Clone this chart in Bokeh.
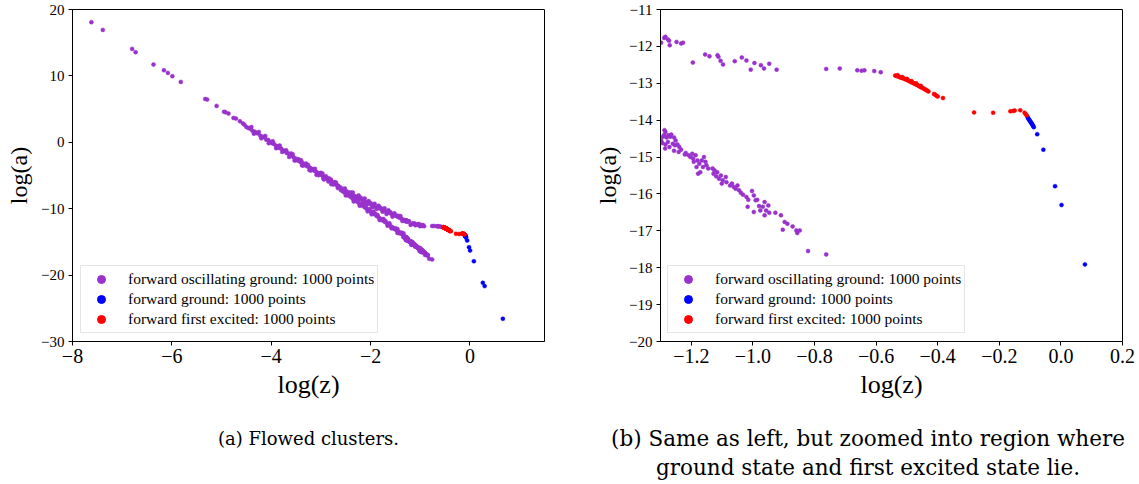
import math
from bokeh.plotting import figure
from bokeh.models import (Range1d, FixedTicker, CustomJSTickFormatter, Legend, LegendItem, Label)
from bokeh.layouts import column, row
from bokeh.embed import file_html
from bokeh.resources import INLINE

# ---------------- data: (log z, log a) ----------------
osc_ground = [
    # sparse high-a tail
    (-7.62, 18.09), (-7.39, 16.93), (-6.80, 14.07), (-6.73, 13.57), (-6.37, 11.71),
    (-6.16, 10.85), (-6.08, 10.45), (-5.99, 9.95), (-5.82, 9.10), (-5.33, 6.53),
    (-5.29, 6.43), (-5.10, 5.48), (-4.95, 4.60), (-4.92, 4.52), (-4.86, 4.32),
    (-4.76, 3.67), (-4.71, 3.57), (-4.63, 3.17), (-4.57, 2.85), (-4.54, 2.66),
    # main stem
    (-4.50, 2.30), (-4.46, 2.15), (-4.42, 2.05), (-4.38, 1.75), (-4.33, 1.60),
    (-4.30, 1.40), (-4.27, 1.35), (-4.22, 1.00), (-4.18, 0.85), (-4.14, 0.75),
    (-4.10, 0.40), (-4.06, 0.35), (-4.02, 0.05), (-3.98, -0.15), (-3.95, -0.20),
    (-3.91, -0.50), (-3.87, -0.60), (-3.84, -0.85), (-3.80, -0.95), (-3.76, -1.25),
    (-3.73, -1.30), (-3.69, -1.60), (-3.66, -1.65), (-3.62, -1.95), (-3.59, -2.00),
    (-3.55, -2.25), (-3.52, -2.45), (-3.49, -2.50), (-3.46, -2.75), (-3.43, -2.85),
    (-3.40, -3.05), (-3.37, -3.10), (-3.34, -3.30), (-3.31, -3.40), (-3.28, -3.60),
    (-3.25, -3.70), (-3.22, -3.85), (-3.19, -4.00), (-3.16, -4.15), (-3.13, -4.30),
    (-3.10, -4.40), (-3.07, -4.60), (-3.04, -4.70), (-3.01, -4.85), (-2.98, -4.95),
    (-2.95, -5.15), (-2.92, -5.25), (-2.89, -5.45), (-2.86, -5.55), (-2.83, -5.70),
    (-2.80, -5.85), (-2.77, -6.00), (-2.74, -6.10), (-2.71, -6.30), (-2.68, -6.45),
    (-2.65, -6.55),
    (-3.60, -1.70), (-3.45, -2.55), (-3.30, -3.20), (-3.15, -4.05), (-3.00, -4.60),
    (-2.90, -5.10), (-2.80, -5.60), (-2.72, -6.00), (-3.50, -2.70), (-3.35, -3.50),
    (-3.20, -4.25), (-3.05, -4.95), (-2.95, -5.45), (-2.85, -5.90), (-2.75, -6.35),
    (-4.40, 2.30), (-4.25, 1.55), (-4.12, 0.95), (-3.97, 0.15), (-3.83, -0.50),
    (-3.70, -1.20), (-3.57, -1.80), (-3.40, -2.70), (-3.26, -3.40), (-3.12, -4.00),
    (-2.97, -4.70), (-2.84, -5.40), (-2.70, -6.05),
    (-4.35, 1.30), (-4.20, 0.60), (-4.05, -0.15), (-3.90, -0.90), (-3.78, -1.45),
    (-3.64, -2.20), (-3.53, -2.75), (-3.38, -3.50), (-3.23, -4.20), (-3.09, -4.90),
    (-2.94, -5.60), (-2.79, -6.30), (-2.66, -6.90),
    # upper branch
    (-2.62, -6.75), (-2.58, -6.95), (-2.54, -7.15), (-2.50, -7.30), (-2.46, -7.50),
    (-2.42, -7.65), (-2.38, -7.85), (-2.34, -8.00), (-2.30, -8.15), (-2.26, -8.30),
    (-2.22, -8.45), (-2.18, -8.60), (-2.14, -8.80), (-2.10, -8.95), (-2.06, -9.10),
    (-2.02, -9.25), (-1.98, -9.40), (-1.94, -9.50), (-1.90, -9.65), (-1.86, -9.80),
    (-1.82, -9.95), (-1.78, -10.10), (-1.74, -10.20), (-1.70, -10.40), (-1.66, -10.50),
    (-1.62, -10.65), (-1.58, -10.80), (-1.54, -10.95), (-1.50, -11.05), (-1.46, -11.20),
    (-1.42, -11.35), (-1.38, -11.50), (-1.34, -11.65), (-1.31, -11.75),
    (-2.40, -7.55), (-2.20, -8.35), (-2.00, -9.15), (-1.80, -9.85), (-1.60, -10.55),
    (-1.45, -11.05),
    (-2.52, -6.95), (-2.36, -7.55), (-2.24, -8.00), (-2.12, -8.45), (-2.04, -8.85),
    (-1.92, -9.25), (-1.84, -9.55), (-1.72, -9.95), (-1.64, -10.25), (-1.52, -10.70),
    (-1.40, -11.10), (-2.48, -7.80), (-2.32, -8.40), (-2.16, -9.00), (-2.08, -9.35),
    (-1.96, -9.80), (-1.88, -10.05), (-1.76, -10.45), (-1.68, -10.80), (-1.56, -11.20),
    (-1.36, -11.85),
    # lower branch
    (-2.60, -7.20), (-2.56, -7.40), (-2.52, -7.60), (-2.48, -7.85), (-2.44, -8.05),
    (-2.40, -8.25), (-2.36, -8.50), (-2.32, -8.70), (-2.28, -8.90), (-2.24, -9.15),
    (-2.20, -9.35), (-2.16, -9.55), (-2.12, -9.80), (-2.08, -10.00), (-2.04, -10.20),
    (-2.00, -10.45), (-1.96, -10.65), (-1.92, -10.85), (-1.88, -11.10), (-1.84, -11.30),
    (-1.80, -11.50), (-1.76, -11.75), (-1.72, -11.95), (-1.68, -12.15), (-1.64, -12.40),
    (-1.60, -12.60), (-1.56, -12.80), (-1.52, -13.05), (-1.48, -13.25), (-1.44, -13.45),
    (-1.40, -13.70), (-1.36, -13.90), (-1.32, -14.10),
    (-2.30, -8.60), (-2.10, -9.70), (-1.90, -10.80), (-1.70, -11.85), (-1.50, -12.95),
    (-1.38, -13.60), (-2.20, -9.45), (-1.78, -11.70), (-1.55, -12.95), (-1.42, -13.70),
    (-2.54, -7.20), (-2.38, -8.05), (-2.26, -8.75), (-2.14, -9.35), (-2.02, -10.05),
    (-1.94, -10.45), (-1.86, -10.95), (-1.74, -11.55), (-1.62, -12.20), (-1.46, -13.05),
    (-1.34, -13.70), (-2.50, -8.00), (-2.34, -8.90), (-2.22, -9.55), (-2.06, -10.40),
    (-1.98, -10.85), (-1.82, -11.70), (-1.66, -12.55), (-1.58, -12.95), (-1.46, -13.65),
    (-1.34, -14.30),
    # upper branch, zoomed region
    (-1.298, -11.90), (-1.288, -11.77), (-1.284, -11.74), (-1.276, -11.81), (-1.272, -11.85),
    (-1.270, -11.97), (-1.248, -11.88), (-1.233, -11.92), (-1.227, -11.90), (-1.195, -12.44),
    (-1.155, -12.22), (-1.141, -12.27), (-1.115, -12.24), (-1.112, -12.28), (-1.105, -12.39),
    (-1.097, -12.49), (-1.059, -12.40), (-1.036, -12.30), (-1.021, -12.38), (-1.007, -12.63),
    (-0.995, -12.45), (-0.974, -12.51), (-0.964, -12.60), (-0.947, -12.47), (-0.923, -12.63),
    (-0.762, -12.61), (-0.718, -12.60), (-0.661, -12.65), (-0.647, -12.66), (-0.638, -12.65),
    (-0.606, -12.67), (-0.585, -12.70),
    # lower branch, zoomed region
    (-1.287, -14.27), (-1.284, -14.32), (-1.292, -14.45), (-1.298, -14.55), (-1.294, -14.62),
    (-1.288, -14.40), (-1.280, -14.47), (-1.274, -14.41), (-1.268, -14.45), (-1.284, -14.66),
    (-1.276, -14.59), (-1.265, -14.39), (-1.256, -14.47), (-1.251, -14.55), (-1.260, -14.64),
    (-1.253, -14.68), (-1.271, -14.73), (-1.285, -14.77), (-1.245, -14.66), (-1.239, -14.73),
    (-1.233, -14.80), (-1.256, -14.83), (-1.241, -14.86), (-1.221, -14.93), (-1.218, -14.89),
    (-1.209, -14.95), (-1.203, -15.00), (-1.197, -14.91), (-1.194, -15.04), (-1.186, -14.95),
    (-1.192, -15.13), (-1.180, -15.09), (-1.183, -15.27), (-1.174, -15.18), (-1.166, -15.09),
    (-1.159, -15.00), (-1.154, -15.13), (-1.162, -15.27), (-1.178, -15.45), (-1.171, -15.41),
    (-1.151, -15.22), (-1.145, -15.31), (-1.131, -15.31), (-1.125, -15.36), (-1.128, -15.45),
    (-1.116, -15.41), (-1.119, -15.52), (-1.110, -15.59), (-1.104, -15.50), (-1.098, -15.63),
    (-1.101, -15.72), (-1.088, -15.54), (-1.086, -15.68), (-1.074, -15.77), (-1.068, -15.72),
    (-1.062, -15.81), (-1.056, -15.86), (-1.050, -15.77), (-1.045, -15.90), (-1.039, -15.97),
    (-1.032, -16.02), (-1.021, -16.08), (-1.015, -16.16), (-1.003, -15.92), (-0.997, -16.04),
    (-1.017, -16.35), (-0.997, -16.49), (-0.991, -16.17), (-0.986, -16.16), (-0.980, -16.33),
    (-0.976, -16.45), (-0.968, -16.35), (-0.962, -16.22), (-0.962, -16.58), (-0.957, -16.45),
    (-0.950, -16.31), (-0.947, -16.51), (-0.927, -16.51), (-0.909, -16.58), (-0.903, -16.97),
    (-0.897, -16.76), (-0.888, -16.81), (-0.871, -16.88), (-0.859, -16.99), (-0.856, -17.06),
    (-0.848, -16.99), (-0.821, -17.55), (-0.762, -17.64),
]

ground = [
    (-0.108, -13.92), (-0.106, -13.95), (-0.104, -13.98), (-0.102, -14.00), (-0.100, -14.03),
    (-0.098, -14.05), (-0.096, -14.08), (-0.094, -14.10), (-0.092, -14.13), (-0.090, -14.16),
    (-0.088, -14.19), (-0.077, -14.38), (-0.057, -14.80), (-0.019, -15.79), (0.002, -16.30),
    (0.078, -17.91), (0.259, -21.16), (0.295, -21.66), (0.662, -26.58),
]

first_excited = [
    (-0.538, -12.79), (-0.534, -12.80), (-0.530, -12.81), (-0.526, -12.82), (-0.522, -12.84),
    (-0.518, -12.85), (-0.514, -12.86), (-0.510, -12.87), (-0.506, -12.89), (-0.502, -12.90),
    (-0.498, -12.92), (-0.494, -12.93), (-0.490, -12.95), (-0.486, -12.97), (-0.482, -12.98),
    (-0.478, -13.00), (-0.474, -13.02), (-0.470, -13.03), (-0.466, -13.05), (-0.462, -13.07),
    (-0.458, -13.09), (-0.454, -13.11), (-0.450, -13.12), (-0.446, -13.14), (-0.442, -13.16),
    (-0.438, -13.18), (-0.434, -13.20), (-0.430, -13.22), (-0.412, -13.29), (-0.408, -13.31),
    (-0.404, -13.34), (-0.400, -13.36), (-0.383, -13.40), (-0.282, -13.79), (-0.220, -13.80),
    (-0.164, -13.76), (-0.155, -13.75), (-0.150, -13.74), (-0.132, -13.73), (-0.118, -13.80),
    (-0.114, -13.84), (-0.111, -13.87),
    (-0.530, -12.78), (-0.515, -12.83), (-0.500, -12.88), (-0.485, -12.94), (-0.470, -13.00),
    (-0.455, -13.07),
]

series_labels = [
    "forward oscillating ground: 1000 points",
    "forward ground: 1000 points",
    "forward first excited: 1000 points",
]
series_colors = ["#9932CC", "#0000FF", "#FF0000"]

x_label = "log(z)"
y_label = "log(a)"

left_x_ticks = [-8, -6, -4, -2, 0]
left_y_ticks = [-30, -20, -10, 0, 10, 20]
right_x_ticks = [-1.2, -1.0, -0.8, -0.6, -0.4, -0.2, 0.0, 0.2]
right_y_ticks = [-20, -19, -18, -17, -16, -15, -14, -13, -12, -11]

captions = [
    "(a) Flowed clusters.",
    "(b) Same as left, but zoomed into region where",
    "ground state and first excited state lie.",
]

FONT = "Liberation Serif"
CAPTION_FONT = "DejaVu Serif"


def fmt(decimals):
    return CustomJSTickFormatter(code=(
        "const s = Math.abs(tick).toFixed(%d);"
        "return (tick < -1e-9 ? '\\u2212' : '') + s;" % decimals))


def panel(width, xr, yr, xt, yt, xdec, bl, br, ylab_standoff, leg_loc):
    p = figure(width=width, height=401, x_range=Range1d(*xr), y_range=Range1d(*yr),
               output_backend="svg", toolbar_location=None,
               min_border_left=bl, min_border_right=br, min_border_top=9,
               min_border_bottom=60)
    p.grid.visible = False
    p.outline_line_color = "black"
    p.outline_line_width = 1
    p.background_fill_color = "white"
    p.border_fill_color = "white"

    xa, ya = p.xaxis[0], p.yaxis[0]
    xa.ticker = FixedTicker(ticks=xt)
    ya.ticker = FixedTicker(ticks=yt)
    xa.formatter = fmt(xdec)
    ya.formatter = fmt(0)
    for ax in (xa, ya):
        ax.axis_line_color = "black"
        ax.major_tick_line_color = "black"
        ax.major_tick_out = 4
        ax.major_tick_in = 0
        ax.minor_tick_out = 0
        ax.minor_tick_in = 0
        ax.major_label_text_font = FONT
        ax.major_label_text_color = "black"
        ax.axis_label_text_font = FONT
        ax.axis_label_text_font_style = "normal"
        ax.axis_label_text_color = "black"
    xa.major_label_text_font_size = "20px"
    ya.major_label_text_font_size = "15px"
    xa.major_label_standoff = 3
    ya.major_label_standoff = 4
    xa.axis_label = x_label
    ya.axis_label = y_label
    xa.axis_label_text_font_size = "26px"
    ya.axis_label_text_font_size = "24px"
    xa.axis_label_standoff = 4
    ya.axis_label_standoff = ylab_standoff

    items = []
    for data, lab, col in zip([osc_ground, ground, first_excited], series_labels, series_colors):
        zs = [d[0] for d in data]
        as_ = [d[1] for d in data]
        p.scatter(zs, as_, size=4, fill_color=col, line_color=col, line_width=0.5)
        dummy = p.scatter([math.nan], [math.nan], size=6.5, fill_color=col, line_color=col)
        items.append(LegendItem(label=lab, renderers=[dummy]))

    leg = Legend(items=items, location=leg_loc, margin=0, padding=3, spacing=0,
                 glyph_width=34, glyph_height=20, label_height=20, label_standoff=10,
                 label_text_font=FONT, label_text_font_size="15.5px",
                 label_text_color="black",
                 border_line_color="#cccccc", border_line_width=1,
                 background_fill_color="white", background_fill_alpha=0.8)
    p.add_layout(leg)
    return p


p1 = panel(590, (-8, 1.5), (-30, 20), left_x_ticks, left_y_ticks, 0, 72, 46, 6, (8, 8))
p2 = panel(549, (-1.3, 0.2), (-20, -11), right_x_ticks, right_y_ticks, 1, 70, 17, 5, (7, 8))

p3 = figure(width=1139, height=83, x_range=Range1d(0, 1139), y_range=Range1d(83, 0),
            output_backend="svg", toolbar_location=None,
            x_axis_location=None, y_axis_location=None,
            min_border_left=0, min_border_right=0, min_border_top=0, min_border_bottom=0)
p3.grid.visible = False
p3.outline_line_color = None
cap_x = [308, 867.5, 867.5]
cap_y = [37, 37, 66]
cap_size = ["18px", "21.5px", "21.5px"]
for cx, cy, txt, fs in zip(cap_x, cap_y, captions, cap_size):
    p3.add_layout(Label(x=cx, y=cy, text=txt, text_font=CAPTION_FONT, text_font_size=fs,
                        text_align="center", text_baseline="middle", text_color="black"))

layout = column(row(p1, p2), p3)
open("out.html", "w").write(file_html(layout, INLINE))
